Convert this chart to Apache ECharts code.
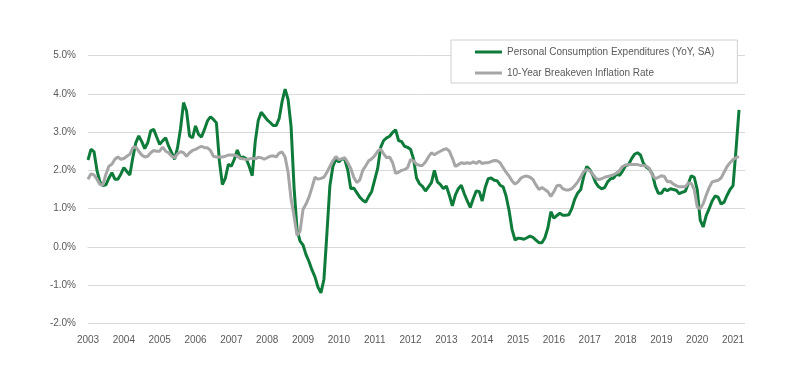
<!DOCTYPE html>
<html>
<head>
<meta charset="utf-8">
<script src="https://cdn.jsdelivr.net/npm/echarts@6/dist/echarts.min.js"></script>
<style>
  html, body { margin: 0; padding: 0; background: #fff; }
  #main { width: 800px; height: 376px; }
</style>
</head>
<body>
<div id="main"></div>
<script>
// monthly, Jan 2003 .. Mar 2021
const firstYear = 2003;
const lastYear = 2021;
const extraMonths = 5; // axis runs a little past the last point (to May 2021)

const pce = [
  2.27, 2.55, 2.49, 2.0, 1.7, 1.6, 1.62, 1.8, 1.94, 1.77, 1.77, 1.9,
  2.07, 1.97, 1.88, 2.33, 2.72, 2.9, 2.75, 2.57, 2.72, 3.03, 3.07, 2.87,
  2.68, 2.77, 2.85, 2.63, 2.46, 2.29, 2.6, 3.1, 3.77, 3.55, 2.9, 2.85,
  3.16, 2.94, 2.87, 3.07, 3.29, 3.4, 3.33, 3.24, 2.24, 1.63, 1.8, 2.16,
  2.11, 2.29, 2.53, 2.33, 2.35, 2.3, 2.1, 1.86, 2.75, 3.3, 3.52, 3.42,
  3.32, 3.25, 3.17, 3.17, 3.35, 3.8, 4.12, 3.85, 3.15, 1.55, 0.45, 0.15,
  0.05, -0.2, -0.38, -0.6, -0.78, -1.05, -1.2, -0.85, 0.35, 1.6, 2.1, 2.3,
  2.22, 2.3, 2.28, 2.0, 1.52, 1.54, 1.42, 1.3, 1.22, 1.17, 1.32, 1.45,
  1.75, 2.05, 2.6, 2.78, 2.85, 2.89, 2.99, 3.06, 2.78, 2.75, 2.63, 2.6,
  2.55, 2.3, 1.8, 1.65, 1.58, 1.46, 1.57, 1.68, 2.0, 1.7, 1.63, 1.52,
  1.59, 1.35, 1.07, 1.35, 1.52, 1.61, 1.39, 1.2, 1.03, 1.26, 1.46, 1.45,
  1.2, 1.55, 1.78, 1.8, 1.74, 1.73, 1.61, 1.57, 1.33, 0.95, 0.45, 0.18,
  0.23, 0.22, 0.2, 0.24, 0.28, 0.25, 0.18, 0.11, 0.11, 0.24, 0.5, 0.92,
  0.75, 0.82, 0.88, 0.83, 0.83, 0.84, 1.0, 1.25, 1.41, 1.5, 1.84, 2.1,
  2.02, 1.88, 1.68, 1.57, 1.52, 1.55, 1.7, 1.78, 1.8, 1.9, 1.87, 1.98,
  2.12, 2.15, 2.3, 2.42, 2.46, 2.4, 2.18, 2.08, 2.03, 1.9, 1.58, 1.4,
  1.4, 1.52, 1.47, 1.52, 1.5, 1.48, 1.39, 1.43, 1.45, 1.65, 1.86, 1.82,
  1.5, 0.7, 0.52, 0.82, 1.0, 1.2, 1.33, 1.3, 1.12, 1.17, 1.35, 1.5,
  1.6, 2.55, 3.58
];

const breakeven = [
  1.77, 1.91, 1.88, 1.77, 1.63, 1.62, 1.9, 2.11, 2.16, 2.29, 2.35, 2.29,
  2.31, 2.37, 2.42, 2.59, 2.61, 2.5, 2.4, 2.35, 2.37, 2.46, 2.52, 2.5,
  2.5, 2.61, 2.5, 2.46, 2.37, 2.33, 2.43, 2.49, 2.46, 2.37, 2.46, 2.52,
  2.55, 2.59, 2.63, 2.59, 2.59, 2.52, 2.37, 2.35, 2.35, 2.35, 2.37, 2.4,
  2.4, 2.4, 2.37, 2.31, 2.3, 2.28, 2.3, 2.32, 2.3, 2.34, 2.33, 2.29,
  2.33, 2.37, 2.38, 2.35, 2.45, 2.48, 2.35, 1.95, 1.25, 0.8, 0.3, 0.4,
  0.98, 1.12, 1.3, 1.55, 1.82, 1.77, 1.79, 1.82, 1.95, 2.1, 2.25, 2.36,
  2.28, 2.3, 2.33, 2.2, 2.05, 1.82, 1.68, 1.75, 2.0, 2.12, 2.25, 2.3,
  2.38, 2.5, 2.56, 2.43, 2.33, 2.35, 2.2, 1.92, 1.95, 2.0, 2.02, 2.07,
  2.28, 2.25, 2.16, 2.13, 2.13, 2.22, 2.35, 2.46, 2.41, 2.46, 2.5, 2.54,
  2.57, 2.5, 2.32, 2.1, 2.15, 2.2, 2.18, 2.2, 2.18, 2.22, 2.18, 2.24,
  2.18, 2.2, 2.2, 2.23, 2.26, 2.25, 2.2, 2.07, 1.95, 1.85, 1.72, 1.64,
  1.7, 1.8, 1.84, 1.85, 1.82, 1.76, 1.62, 1.5, 1.55, 1.5, 1.44, 1.32,
  1.44, 1.6, 1.61, 1.52, 1.49, 1.49, 1.52, 1.6, 1.7, 1.83, 1.97, 2.02,
  1.99, 1.9, 1.8, 1.76, 1.78, 1.82, 1.84, 1.86, 1.89, 1.93, 2.0, 2.1,
  2.14, 2.15, 2.15, 2.15, 2.15, 2.13, 2.13, 2.11, 2.05, 1.87, 1.78, 1.82,
  1.86, 1.84, 1.7, 1.71, 1.64, 1.6, 1.57, 1.57, 1.57, 1.67, 1.66, 1.5,
  1.05, 1.0, 1.13, 1.35, 1.55, 1.7, 1.72, 1.74, 1.8, 1.95, 2.1, 2.2,
  2.28, 2.33, 2.36
];

// month categories, e.g. "2003-01"
const months = [];
for (let y = firstYear; y <= lastYear; y++) {
  for (let m = 1; m <= 12; m++) {
    if (y === lastYear && m > extraMonths) break;
    months.push(y + '-' + (m < 10 ? '0' + m : m));
  }
}

const labelFont = 'Liberation Sans, Arial, sans-serif';

let chart = echarts.init(document.getElementById('main'), null, { renderer: 'canvas' });
let option = {
  animation: false,
  backgroundColor: '#fff',
  grid: { left: 88, right: 55, top: 55.5, bottom: 52.5 },
  legend: {
    orient: 'vertical',
    left: 451,
    top: 40,
    padding: [5, 23, 3, 24],
    itemGap: 7,
    itemWidth: 27,
    itemHeight: 3,
    icon: 'rect',
    backgroundColor: '#fff',
    borderColor: '#d0d0d0',
    borderWidth: 1,
    textStyle: { color: '#595959', fontSize: 10, fontFamily: labelFont, lineHeight: 14 },
    data: ['Personal Consumption Expenditures (YoY, SA)', '10-Year Breakeven Inflation Rate']
  },
  xAxis: {
    type: 'category',
    boundaryGap: false,
    data: months,
    axisLine: { lineStyle: { color: '#d9d9d9' } },
    axisTick: { show: false },
    axisLabel: {
      color: '#595959',
      fontSize: 10,
      fontFamily: labelFont,
      margin: 12,
      interval: (i) => i % 12 === 0,
      formatter: (v) => v.slice(0, 4)
    },
    splitLine: { show: false }
  },
  yAxis: {
    type: 'value',
    min: -2,
    max: 5,
    interval: 1,
    axisLine: { show: false },
    axisTick: { show: false },
    axisLabel: {
      color: '#595959',
      fontSize: 10,
      fontFamily: labelFont,
      margin: 12,
      formatter: (v) => v.toFixed(1) + '%'
    },
    splitLine: { lineStyle: { color: '#d9d9d9' } }
  },
  series: [
    {
      name: 'Personal Consumption Expenditures (YoY, SA)',
      type: 'line',
      data: pce,
      showSymbol: false,
      color: '#0f7b3a',
      lineStyle: { width: 3, color: '#0f7b3a' }
    },
    {
      name: '10-Year Breakeven Inflation Rate',
      type: 'line',
      data: breakeven,
      showSymbol: false,
      color: '#a6a6a6',
      lineStyle: { width: 3, color: '#a6a6a6' }
    }
  ]
};
chart.setOption(option);
</script>
</body>
</html>
